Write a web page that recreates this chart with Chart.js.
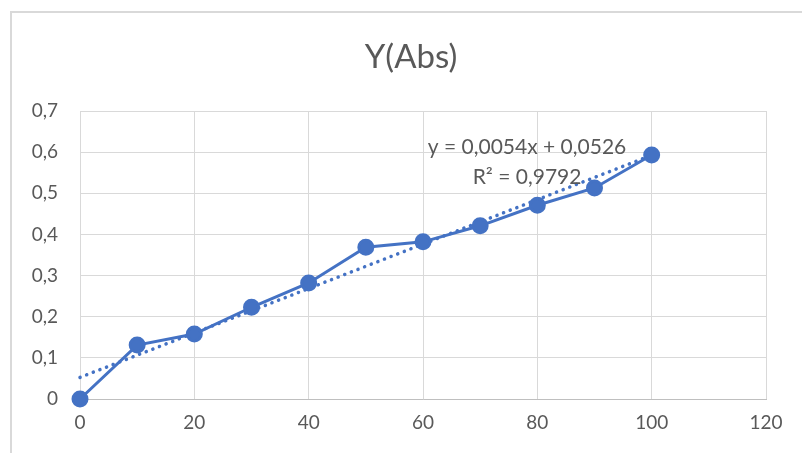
<!DOCTYPE html>
<html>
<head>
<meta charset="utf-8">
<script src="https://cdn.jsdelivr.net/npm/chart.js@4/dist/chart.umd.min.js"></script>
<style>
  html, body { margin: 0; padding: 0; background: #fff; }
  #wrap { position: relative; width: 802px; height: 453px; overflow: hidden; }
  #frame { position: absolute; left: 10px; top: 11px; width: 900px; height: 500px;
           border-left: 2px solid #d9d9d9; border-top: 2px solid #d9d9d9; }
  #myChart { position: absolute; left: 0; top: 0; }
</style>
</head>
<body>
<div id="wrap">
  <div id="frame"></div>
  <canvas id="myChart" width="802" height="453"></canvas>
</div>
<script>
// measured values
var xValues = [0, 10, 20, 30, 40, 50, 60, 70, 80, 90, 100];
var absValues = [0, 0.131, 0.158, 0.223, 0.282, 0.369, 0.382, 0.421, 0.471, 0.513, 0.593];

// linear trend (y = 0,0054x + 0,0526), ends at x=0 and x=100
var trendX = [0, 100];
var trendY = [0.0526, 0.5926];
var trendText = ["y = 0,0054x + 0,0526", "R\u00b2 = 0,9792"];
var chartTitle = "Y(Abs)";

var yTickLabels = ["0", "0,1", "0,2", "0,3", "0,4", "0,5", "0,6", "0,7"];
var xTickLabels = ["0", "20", "40", "60", "80", "100", "120"];

var textColor = "#595959";
var gridColor = "#d9d9d9";
var blue = "#4472C4";

var points = xValues.map(function(x, i){ return {x: x, y: absValues[i]}; });
var trend = trendX.map(function(x, i){ return {x: x, y: trendY[i]}; });

// title (centred on the whole chart frame) + equation label by the trend line
var texts = {
  id: 'texts',
  afterDatasetsDraw: function(chart){
    var c = chart.ctx;
    var xs = chart.scales.x, ys = chart.scales.y;
    c.save();
    c.fillStyle = textColor;
    c.textAlign = "center";
    c.textBaseline = "middle";
    c.font = "33px Lato";
    c.fillText(chartTitle, chart.width / 2 + 10, 57);
    c.font = "21px Lato";
    c.fillText(trendText[0], xs.getPixelForValue(78.2), ys.getPixelForValue(0.612));
    c.fillText(trendText[1], xs.getPixelForValue(78.2), ys.getPixelForValue(0.539));
    c.restore();
  }
};

var ctx = document.getElementById("myChart");
var myChart = new Chart(ctx, {
  type: 'scatter',
  data: {
    datasets: [
      {
        label: "Y(Abs)",
        data: points,
        showLine: true,
        borderColor: blue,
        backgroundColor: blue,
        borderWidth: 3,
        pointRadius: 7,
        pointHoverRadius: 7,
        clip: false,
        order: 1
      },
      {
        label: "Linear (Y(Abs))",
        data: trend,
        showLine: true,
        borderColor: blue,
        borderWidth: 3.5,
        borderDash: [0.1, 7],
        borderCapStyle: 'round',
        pointRadius: 0,
        clip: false,
        order: 2
      }
    ]
  },
  options: {
    responsive: false,
    animation: false,
    layout: { padding: { left: 0, right: 36, top: 111, bottom: 0 } },
    plugins: {
      legend: { display: false },
      tooltip: { enabled: false },
      title: { display: false }
    },
    scales: {
      x: {
        type: 'linear',
        min: 0, max: 120,
        ticks: {
          stepSize: 20,
          color: textColor,
          font: { family: "Lato", size: 19 },
          padding: 12,
          maxRotation: 0,
          callback: function(v, i){ return xTickLabels[i]; }
        },
        grid: { color: gridColor, lineWidth: 1, drawTicks: false },
        border: { color: "#bfbfbf", width: 1 },
        afterFit: function(s){ s.height = 54; }
      },
      y: {
        min: 0, max: 0.7,
        ticks: {
          stepSize: 0.1,
          color: textColor,
          font: { family: "Lato", size: 19 },
          padding: 22,
          callback: function(v, i){ return yTickLabels[i]; }
        },
        grid: { color: gridColor, lineWidth: 1, drawTicks: false },
        border: { color: gridColor, width: 1 },
        afterFit: function(s){ s.width = 80; }
      }
    }
  },
  plugins: [texts]
});
</script>
</body>
</html>
